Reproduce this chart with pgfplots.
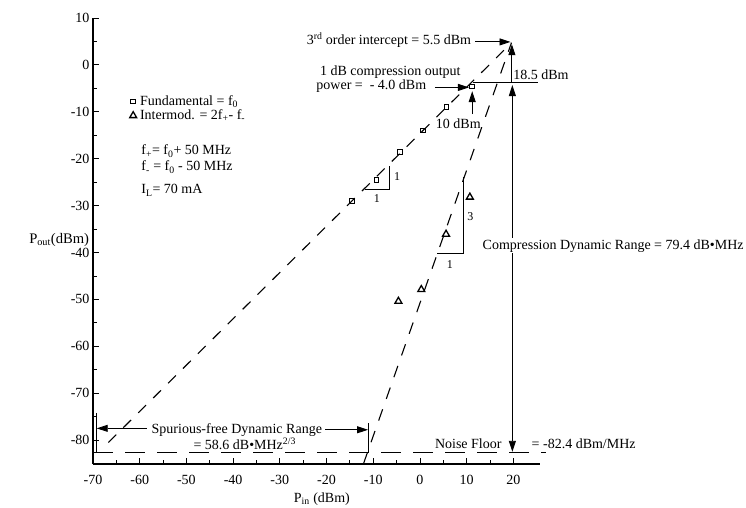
\documentclass[border=0pt]{standalone}
\usepackage{pgfplots}
\pgfplotsset{compat=1.18}
\usepackage{fontspec}
\setmainfont{Liberation Serif}
\usetikzlibrary{arrows.meta}
\newcommand{\fs}{\fontsize{14}{14}\selectfont}
\begin{document}
\begin{tikzpicture}[font=\fs, >={Triangle[length=11pt,width=7pt]}]
\useasboundingbox (-93pt,-44pt) rectangle (653pt,464pt);
\begin{axis}[
  at={(0pt,0pt)}, anchor=south west,
  x=4.67pt, y=4.69pt,
  xmin=-70, xmax=25.7, ymin=-85.1, ymax=10,
  axis x line=bottom, axis y line=left,
  axis line style={line width=1.1pt, -},
  xtick={-70,-60,...,20}, ytick={-80,-70,...,10},
  minor x tick num=1, minor y tick num=1,
  tick align=inside,
  major tick length=6pt, minor tick length=4pt,
  tick style={black, line width=0.8pt},
  ticklabel style={font=\fontsize{14}{14}\selectfont},
  xticklabel style={yshift=-8pt},
  /pgf/number format/assume math mode=true,
  clip=false,
  legend style={draw=none, fill=none, at={(0.075,0.832)}, anchor=north west,
     font=\fs, row sep=2pt, nodes={inner sep=0.5pt}},
  legend cell align=left,
  legend image code/.code={\draw[#1] plot coordinates {(0.1cm,0cm)}; \path (0.3cm,0cm);},
]
% data points
\addplot[only marks, mark=square, mark size=2.3pt, line width=0.8pt, black]
  coordinates {(-14.6,-29.0) (-9.3,-24.5) (-4.3,-18.6) (0.6,-14.0) (5.7,-9.0) (11.1,-4.6)};
\addlegendentry{Fundamental = f\textsubscript{0}}
\addplot[only marks, mark=triangle, mark size=4pt, line width=1.3pt, black]
  coordinates {(-4.6,-50.4) (0.3,-47.9) (5.6,-36.1) (10.7,-28.2)};
\addlegendentry{Intermod. = 2f\textsubscript{+}- f\textsubscript{-}}
% fitted lines
\addplot[forget plot, black, line width=1.1pt, dash pattern=on 11pt off 10pt]
  coordinates {(-66.7,-80.5) (19.6,4.7)};
\addplot[forget plot, black, line width=1.1pt, dash pattern=on 12pt off 11pt]
  coordinates {(-12.1,-85.1) (19.6,4.7)};
% noise floor
\addplot[forget plot, black, line width=1.1pt, dash pattern=on 20pt off 12pt]
  coordinates {(-70,-82.6) (27,-82.6)};

% slope triangles
\draw[line width=0.9pt] (axis cs:-11.8,-26.6) -- (axis cs:-6.6,-26.6) -- (axis cs:-6.6,-21.5);
\node[font=\fontsize{12}{12}\selectfont] at (axis cs:-9.2,-28.6) {1};
\node[font=\fontsize{12}{12}\selectfont, anchor=west] at (axis cs:-6.3,-23.9) {1};
\draw[line width=0.9pt] (axis cs:3.7,-40.3) -- (axis cs:9.25,-40.3) -- (axis cs:9.25,-23.8);
\node[font=\fontsize{12}{12}\selectfont] at (axis cs:6.4,-42.6) {1};
\node[font=\fontsize{12}{12}\selectfont, anchor=west] at (axis cs:9.4,-32.4) {3};

% legend extra text
\node[anchor=base west] at (axis cs:-60.4,-19.2) {f\textsubscript{+}= f\textsubscript{0}+ 50 MHz};
\node[anchor=base west] at (axis cs:-60.4,-22.6) {f\textsubscript{-} = f\textsubscript{0} - 50 MHz};
\node[anchor=base west] at (axis cs:-60.4,-27.5) {I\textsubscript{L}= 70 mA};

% intercept
\node[anchor=base east, inner sep=0pt] at (axis cs:11.0,4.4) {3\textsuperscript{rd} order intercept = 5.5 dBm};
\draw[->, line width=0.9pt] (axis cs:11.8,4.9) -- (axis cs:19.4,4.9);
% compression point
\node[anchor=base west, inner sep=0pt] at (axis cs:-21.4,-2.2) {1 dB compression output};
\node[anchor=base west, inner sep=0pt] at (axis cs:-22.2,-5.35) {power = \ - 4.0 dBm};
\draw[->, line width=0.9pt] (axis cs:3.2,-4.8) -- (axis cs:10.5,-4.8);
\node[anchor=base west, inner sep=0pt] at (axis cs:3.4,-13.5) {10 dBm};
\draw[->, line width=0.9pt] (axis cs:11.2,-10.5) -- (axis cs:11.2,-5.6);
% 18.5 dBm
\draw[line width=0.9pt] (axis cs:11.4,-3.7) -- (axis cs:25.2,-3.7);
\draw[->, line width=0.9pt] (axis cs:19.7,-3.7) -- (axis cs:19.7,4.4);
\node[anchor=base west, inner sep=0pt] at (axis cs:19.95,-3.2) {18.5 dBm};
% compression dynamic range
\draw[<->, line width=0.9pt] (axis cs:19.8,-4.3) -- (axis cs:19.8,-82.5);
\node[anchor=base west, fill=white, inner sep=1pt] at (axis cs:13.2,-39.3) {Compression Dynamic Range = 79.4 dB\textbullet MHz};
% noise floor text
\node[anchor=base west, inner sep=0pt] at (axis cs:3.2,-81.9) {Noise Floor};
\node[anchor=base west, inner sep=0pt] at (axis cs:23.9,-81.9) {= -82.4 dBm/MHz};
% spurious free
\node[anchor=base, inner sep=0pt] at (axis cs:-39.2,-78.6) {Spurious-free Dynamic Range};
\node[anchor=base, inner sep=0pt] at (axis cs:-37.5,-82.0) {= 58.6 dB\textbullet MHz\textsuperscript{2/3}};
\draw[->, line width=0.9pt] (axis cs:-58.5,-77.5) -- (axis cs:-69.2,-77.5);
\draw[->, line width=0.9pt] (axis cs:-20.3,-77.8) -- (axis cs:-11.1,-77.8);
\draw[line width=0.9pt] (axis cs:-69.2,-74.2) -- (axis cs:-69.2,-82.6);
\draw[line width=0.9pt] (axis cs:-11.05,-76.4) -- (axis cs:-11.05,-82.6);
% axis labels
\node[anchor=base east, inner sep=0pt, font=\fontsize{14.6}{15}\selectfont] at (axis cs:-70.8,-38.0) {P\textsubscript{out}(dBm)};
\node[anchor=base, inner sep=0pt] at (axis cs:-21,-93.3) {P\textsubscript{in} (dBm)};
\end{axis}
\end{tikzpicture}
\end{document}
